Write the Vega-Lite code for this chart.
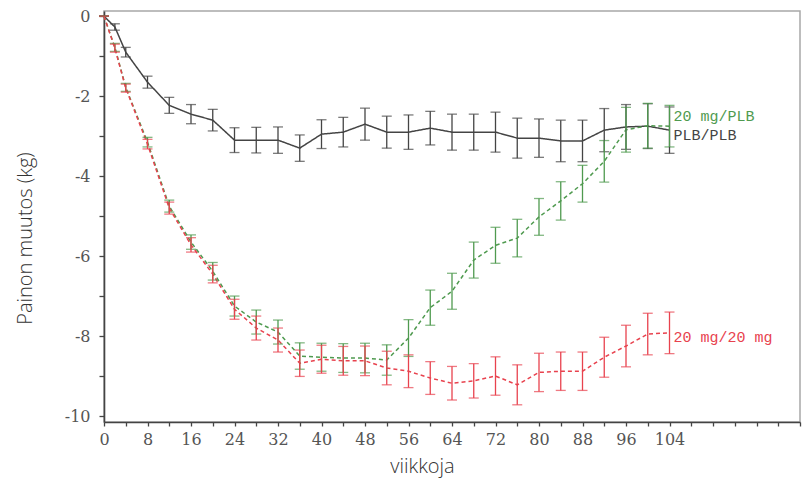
{
  "$schema": "https://vega.github.io/schema/vega-lite/v6.json",
  "width": 696,
  "height": 411,
  "autosize": "none",
  "padding": {"left": 104, "top": 11, "right": 3, "bottom": 57},
  "background": "white",
  "config": {
    "view": {"stroke": "#a8a8a8", "strokeWidth": 1.5},
    "axis": {
      "grid": false,
      "domainColor": "#444",
      "domainWidth": 1.6,
      "tickColor": "#444",
      "tickWidth": 1.3,
      "labelFont": "DejaVu Serif",
      "labelFontSize": 16,
      "labelColor": "#555",
      "titleFont": "Open Sans",
      "titleFontWeight": 300,
      "titleFontSize": 20,
      "titleColor": "#333"
    }
  },
  "datasets": {
    "series": [
      {"group": "PLB/PLB", "week": 0, "mean": 0, "err": 0},
      {"group": "PLB/PLB", "week": 2, "mean": -0.27, "err": 0.08},
      {"group": "PLB/PLB", "week": 4, "mean": -0.9, "err": 0.12},
      {"group": "PLB/PLB", "week": 8, "mean": -1.65, "err": 0.15},
      {"group": "PLB/PLB", "week": 12, "mean": -2.23, "err": 0.2},
      {"group": "PLB/PLB", "week": 16, "mean": -2.45, "err": 0.24},
      {"group": "PLB/PLB", "week": 20, "mean": -2.6, "err": 0.27},
      {"group": "PLB/PLB", "week": 24, "mean": -3.1, "err": 0.31},
      {"group": "PLB/PLB", "week": 28, "mean": -3.1, "err": 0.32},
      {"group": "PLB/PLB", "week": 32, "mean": -3.1, "err": 0.33},
      {"group": "PLB/PLB", "week": 36, "mean": -3.3, "err": 0.33},
      {"group": "PLB/PLB", "week": 40, "mean": -2.95, "err": 0.36},
      {"group": "PLB/PLB", "week": 44, "mean": -2.9, "err": 0.37},
      {"group": "PLB/PLB", "week": 48, "mean": -2.7, "err": 0.4},
      {"group": "PLB/PLB", "week": 52, "mean": -2.9, "err": 0.4},
      {"group": "PLB/PLB", "week": 56, "mean": -2.9, "err": 0.43},
      {"group": "PLB/PLB", "week": 60, "mean": -2.8, "err": 0.42},
      {"group": "PLB/PLB", "week": 64, "mean": -2.9, "err": 0.45},
      {"group": "PLB/PLB", "week": 68, "mean": -2.9, "err": 0.45},
      {"group": "PLB/PLB", "week": 72, "mean": -2.9, "err": 0.5},
      {"group": "PLB/PLB", "week": 76, "mean": -3.05, "err": 0.5},
      {"group": "PLB/PLB", "week": 80, "mean": -3.05, "err": 0.48},
      {"group": "PLB/PLB", "week": 84, "mean": -3.12, "err": 0.52},
      {"group": "PLB/PLB", "week": 88, "mean": -3.12, "err": 0.52},
      {"group": "PLB/PLB", "week": 92, "mean": -2.85, "err": 0.54},
      {"group": "PLB/PLB", "week": 96, "mean": -2.77, "err": 0.56},
      {"group": "PLB/PLB", "week": 100, "mean": -2.75, "err": 0.56},
      {"group": "PLB/PLB", "week": 104, "mean": -2.85, "err": 0.58},

      {"group": "20 mg/PLB", "week": 0, "mean": 0, "err": 0},
      {"group": "20 mg/PLB", "week": 2, "mean": -0.78, "err": 0.1},
      {"group": "20 mg/PLB", "week": 4, "mean": -1.78, "err": 0.1},
      {"group": "20 mg/PLB", "week": 8, "mean": -3.15, "err": 0.12},
      {"group": "20 mg/PLB", "week": 12, "mean": -4.75, "err": 0.15},
      {"group": "20 mg/PLB", "week": 16, "mean": -5.65, "err": 0.18},
      {"group": "20 mg/PLB", "week": 20, "mean": -6.38, "err": 0.22},
      {"group": "20 mg/PLB", "week": 24, "mean": -7.25, "err": 0.25},
      {"group": "20 mg/PLB", "week": 28, "mean": -7.65, "err": 0.3},
      {"group": "20 mg/PLB", "week": 32, "mean": -7.9, "err": 0.3},
      {"group": "20 mg/PLB", "week": 36, "mean": -8.5, "err": 0.33},
      {"group": "20 mg/PLB", "week": 40, "mean": -8.53, "err": 0.35},
      {"group": "20 mg/PLB", "week": 44, "mean": -8.55, "err": 0.36},
      {"group": "20 mg/PLB", "week": 48, "mean": -8.55, "err": 0.37},
      {"group": "20 mg/PLB", "week": 52, "mean": -8.6, "err": 0.38},
      {"group": "20 mg/PLB", "week": 56, "mean": -8.05, "err": 0.46},
      {"group": "20 mg/PLB", "week": 60, "mean": -7.29, "err": 0.44},
      {"group": "20 mg/PLB", "week": 64, "mean": -6.88, "err": 0.45},
      {"group": "20 mg/PLB", "week": 68, "mean": -6.1, "err": 0.45},
      {"group": "20 mg/PLB", "week": 72, "mean": -5.73, "err": 0.45},
      {"group": "20 mg/PLB", "week": 76, "mean": -5.55, "err": 0.47},
      {"group": "20 mg/PLB", "week": 80, "mean": -5.02, "err": 0.46},
      {"group": "20 mg/PLB", "week": 84, "mean": -4.62, "err": 0.48},
      {"group": "20 mg/PLB", "week": 88, "mean": -4.19, "err": 0.46},
      {"group": "20 mg/PLB", "week": 92, "mean": -3.63, "err": 0.52},
      {"group": "20 mg/PLB", "week": 96, "mean": -2.84, "err": 0.56},
      {"group": "20 mg/PLB", "week": 100, "mean": -2.74, "err": 0.56},
      {"group": "20 mg/PLB", "week": 104, "mean": -2.75, "err": 0.52},

      {"group": "20 mg/20 mg", "week": 0, "mean": 0, "err": 0},
      {"group": "20 mg/20 mg", "week": 2, "mean": -0.8, "err": 0.1},
      {"group": "20 mg/20 mg", "week": 4, "mean": -1.8, "err": 0.1},
      {"group": "20 mg/20 mg", "week": 8, "mean": -3.2, "err": 0.12},
      {"group": "20 mg/20 mg", "week": 12, "mean": -4.8, "err": 0.15},
      {"group": "20 mg/20 mg", "week": 16, "mean": -5.72, "err": 0.18},
      {"group": "20 mg/20 mg", "week": 20, "mean": -6.45, "err": 0.22},
      {"group": "20 mg/20 mg", "week": 24, "mean": -7.33, "err": 0.25},
      {"group": "20 mg/20 mg", "week": 28, "mean": -7.8, "err": 0.3},
      {"group": "20 mg/20 mg", "week": 32, "mean": -8.1, "err": 0.3},
      {"group": "20 mg/20 mg", "week": 36, "mean": -8.68, "err": 0.33},
      {"group": "20 mg/20 mg", "week": 40, "mean": -8.58, "err": 0.35},
      {"group": "20 mg/20 mg", "week": 44, "mean": -8.62, "err": 0.36},
      {"group": "20 mg/20 mg", "week": 48, "mean": -8.62, "err": 0.37},
      {"group": "20 mg/20 mg", "week": 52, "mean": -8.8, "err": 0.42},
      {"group": "20 mg/20 mg", "week": 56, "mean": -8.88, "err": 0.41},
      {"group": "20 mg/20 mg", "week": 60, "mean": -9.05, "err": 0.41},
      {"group": "20 mg/20 mg", "week": 64, "mean": -9.18, "err": 0.42},
      {"group": "20 mg/20 mg", "week": 68, "mean": -9.12, "err": 0.43},
      {"group": "20 mg/20 mg", "week": 72, "mean": -9.0, "err": 0.48},
      {"group": "20 mg/20 mg", "week": 76, "mean": -9.22, "err": 0.5},
      {"group": "20 mg/20 mg", "week": 80, "mean": -8.91, "err": 0.48},
      {"group": "20 mg/20 mg", "week": 84, "mean": -8.88, "err": 0.48},
      {"group": "20 mg/20 mg", "week": 88, "mean": -8.88, "err": 0.48},
      {"group": "20 mg/20 mg", "week": 92, "mean": -8.53, "err": 0.5},
      {"group": "20 mg/20 mg", "week": 96, "mean": -8.25, "err": 0.52},
      {"group": "20 mg/20 mg", "week": 100, "mean": -7.95, "err": 0.52},
      {"group": "20 mg/20 mg", "week": 104, "mean": -7.92, "err": 0.52}
    ],
    "labels": [
      {"group": "20 mg/PLB", "week": 104, "pos": -2.5},
      {"group": "PLB/PLB", "week": 104, "pos": -2.96},
      {"group": "20 mg/20 mg", "week": 104, "pos": -8.03}
    ]
  },
  "encoding": {
    "x": {
      "field": "week",
      "type": "quantitative",
      "scale": {"domain": [0, 128], "nice": false, "zero": false},
      "axis": {
        "title": "viikkoja",
        "values": [0, 4, 8, 12, 16, 20, 24, 28, 32, 36, 40, 44, 48, 52, 56, 60, 64, 68, 72, 76, 80, 84, 88, 92, 96, 100, 104, 108, 112, 116, 120, 124, 128],
        "labelExpr": "(datum.value % 8 == 0 && datum.value <= 104) ? '' + datum.value : ''",
        "tickSize": 4,
        "labelPadding": 5,
        "labelFlush": false,
        "titleX": 318,
        "titleY": 50,
        "titleBaseline": "alphabetic",
        "titleAnchor": "middle"
      }
    }
  },
  "layer": [
    {
      "data": {"name": "series"},
      "mark": {"type": "line", "strokeWidth": 1.5},
      "encoding": {
        "y": {
          "field": "mean",
          "type": "quantitative",
          "title": "Painon muutos (kg)",
          "scale": {"domain": [-10.15, 0.13], "nice": false, "zero": false},
          "axis": {
            "title": "Painon muutos (kg)",
            "values": [-10, -9, -8, -7, -6, -5, -4, -3, -2, -1, 0],
            "labelExpr": "datum.value % 2 == 0 ? '' + datum.value : ''",
            "tickSize": 5,
            "labelPadding": 9,
            "titleX": -73,
            "titleY": 227,
            "titleAngle": 270,
            "titleBaseline": "alphabetic",
            "titleAnchor": "middle"
          }
        },
        "color": {
          "field": "group",
          "type": "nominal",
          "scale": {"domain": ["PLB/PLB", "20 mg/PLB", "20 mg/20 mg"], "range": ["#444444", "#4f9a4f", "#e8424e"]},
          "legend": null
        },
        "strokeDash": {
          "field": "group",
          "type": "nominal",
          "scale": {"domain": ["PLB/PLB", "20 mg/PLB", "20 mg/20 mg"], "range": [[1, 0], [4, 3], [4, 3]]},
          "legend": null
        }
      }
    },
    {
      "data": {"name": "series"},
      "mark": {"type": "errorbar", "ticks": {"size": 10}, "thickness": 1.3},
      "encoding": {
        "y": {"field": "mean", "type": "quantitative", "title": "Painon muutos (kg)"},
        "yError": {"field": "err"},
        "color": {"field": "group", "type": "nominal", "legend": null}
      }
    },
    {
      "data": {"name": "labels"},
      "mark": {"type": "text", "align": "left", "baseline": "middle", "dx": 4, "font": "Liberation Mono", "fontSize": 15},
      "encoding": {
        "y": {"field": "pos", "type": "quantitative", "title": "Painon muutos (kg)"},
        "text": {"field": "group"},
        "color": {"field": "group", "type": "nominal", "legend": null}
      }
    }
  ]
}
